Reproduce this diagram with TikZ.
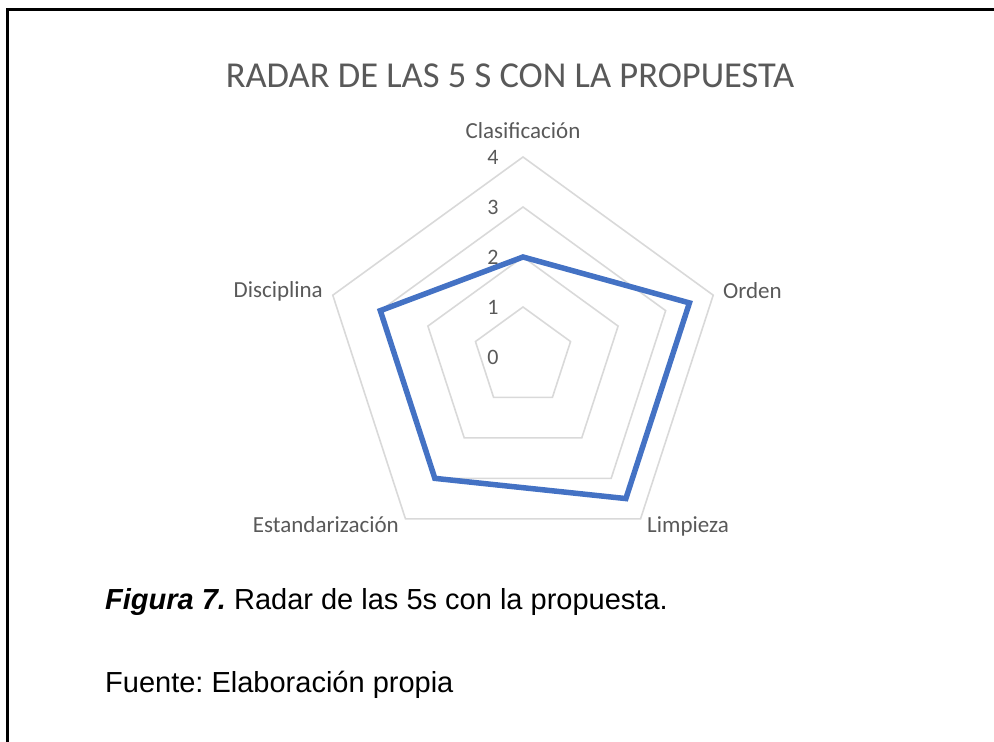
\documentclass[tikz,border=0pt]{standalone}
\usepackage{fontspec}
\setmainfont{Carlito}
\newfontfamily\arialfont{Liberation Sans}
\definecolor{txtgray}{HTML}{595959}
\definecolor{gridgray}{HTML}{D9D9D9}
\definecolor{serieblue}{HTML}{4472C4}
\frenchspacing
\begin{document}
\begin{tikzpicture}[x=1pt,y=1pt,
  txt/.style={inner sep=0pt, text=txtgray, font=\fontsize{23}{26}\selectfont},
  ticklbl/.style={inner sep=0pt, text=txtgray, font=\fontsize{22}{25}\selectfont, anchor=base},
  gridline/.style={draw=gridgray, line width=1.6pt, line join=miter},
  serie/.style={draw=serieblue, line width=5.5pt, line join=miter},
  caption/.style={inner sep=0pt, anchor=base west, font=\arialfont\fontsize{29}{33}\selectfont}]
\useasboundingbox (0,0) rectangle (994,742);
% frame
\coordinate (fb) at (7.5,0);
\coordinate (fc) at (7.5,732.5);
\coordinate (fr) at (994,732.5);
\draw[line width=2.6pt] (fb) -- (fc) -- (fr);
% title
\node[txt, font=\fontsize{36.5}{40}\selectfont, anchor=base] (title) at (510,654) {RADAR DE LAS 5 S CON LA PROPUESTA};
% radar
\coordinate (c) at (523,385);
\begin{scope}[shift={(c)}]
  \foreach \r in {50,100,150,200}{
    \draw[gridline] (90:\r) -- (18:\r) -- (-54:\r) -- (-126:\r) -- (162:\r) -- cycle;
  }
  \coordinate (d0) at (90:100);
  \coordinate (d1) at (18:175);
  \coordinate (d2) at (-54:175);
  \coordinate (d3) at (-126:150);
  \coordinate (d4) at (162:150);
  \draw[serie] (d0) -- (d1) -- (d2) -- (d3) -- (d4) -- cycle;
\end{scope}
% tick labels
\foreach \k in {0,...,4}{
  \node[ticklbl] (t\k) at (493,{377+50*\k}) {\k};
}
% category labels
\node[txt, anchor=base] (cla) at (523,603) {Clasificación};
\node[txt, anchor=base west] (ord) at (723,443) {Orden};
\node[txt, anchor=base west] (lim) at (647,209) {Limpieza};
\node[txt, anchor=base east] (est) at (399,209) {Estandarización};
\node[txt, anchor=base east] (dis) at (323,444) {Disciplina};
% caption
\node[caption] (cap) at (105,132) {\textbf{\textit{Figura 7.}} Radar de las 5s con la propuesta.};
\node[caption] (src) at (105,49) {Fuente: Elaboración propia};
\end{tikzpicture}
\end{document}
